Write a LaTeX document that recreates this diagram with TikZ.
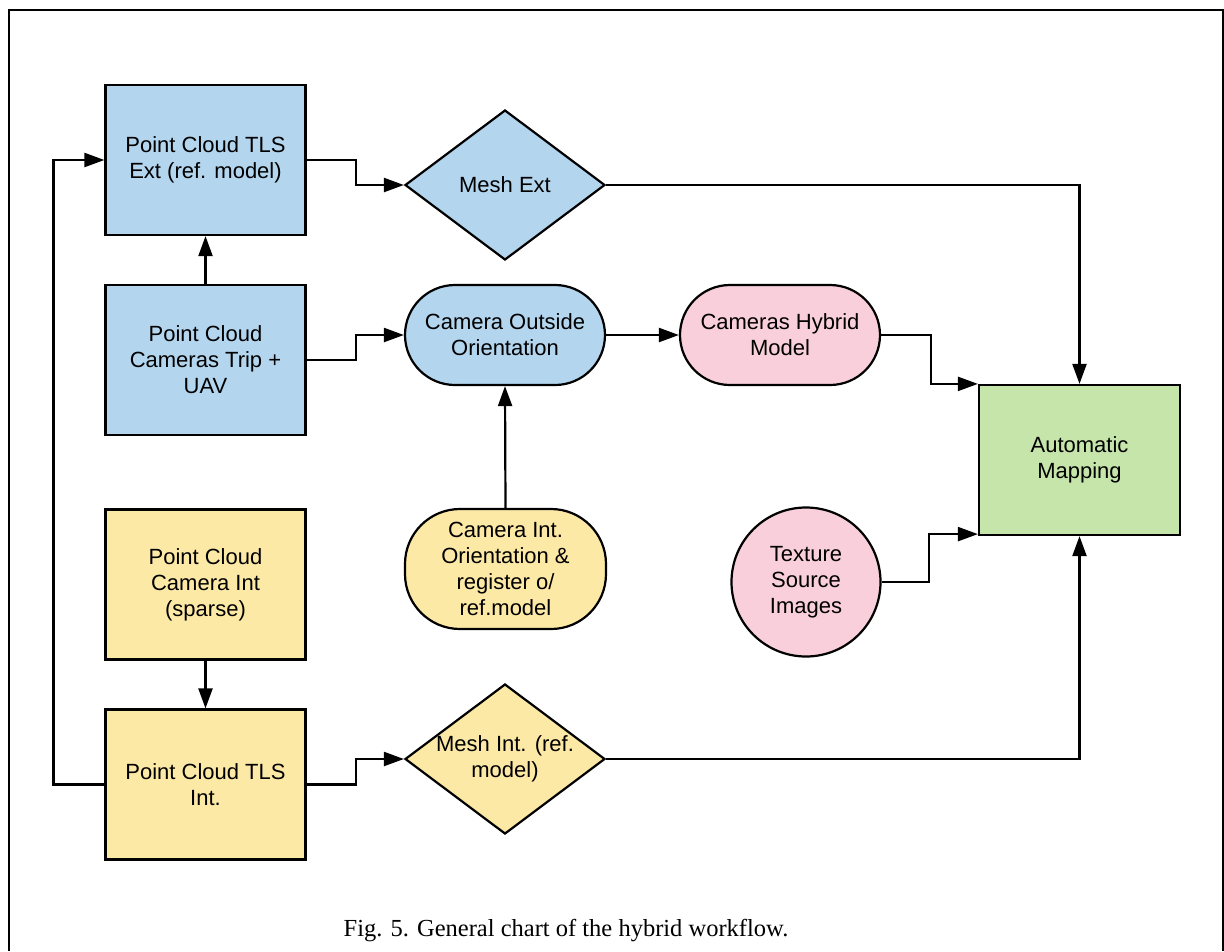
\documentclass[tikz,border=0pt]{standalone}
\usepackage{fontspec}
\setmainfont{Liberation Sans}
\newfontfamily\capfont{Liberation Serif}
\usetikzlibrary{arrows.meta,shapes.geometric}
\definecolor{cblue}{RGB}{179,213,238}
\definecolor{cyellow}{RGB}{253,233,166}
\definecolor{cpink}{RGB}{248,207,219}
\definecolor{cgreen}{RGB}{198,229,171}
\newcommand\labfont{\fontsize{22}{26}\selectfont}
\begin{document}
\begin{tikzpicture}[x=1pt,y=-1pt,
  shp/.style={draw, line width=2.2pt, inner sep=0pt, align=center, font=\labfont},
  boxnode/.style={shp, rectangle, minimum width=200pt, minimum height=150pt},
  stad/.style={shp, rectangle, rounded corners=50pt, minimum width=200pt, minimum height=100pt},
  dia/.style={shp, diamond, minimum width=200pt, minimum height=150pt},
  txt/.style={inner sep=0pt, align=center, font=\labfont},
  arr/.style={line width=2.2pt, -{Triangle[length=20pt,width=14pt]}},
  frame/.style={line width=2.5pt}
]
\useasboundingbox (0,0) rectangle (1224,951);
\draw[frame] (9,951) -- (9,10) -- (1223,10) -- (1223,951);

% left column
\node[boxnode, fill=cblue] (A) at (205.5,160) {Point Cloud TLS\\Ext (ref. model)};
\node[boxnode, fill=cblue] (B) at (205.5,360) {Point Cloud\\Cameras Trip +\\UAV};
\node[boxnode, fill=cyellow] (C) at (205.5,584.5) {Point Cloud\\Camera Int\\(sparse)};
\node[boxnode, fill=cyellow] (D) at (205.5,784.5) {Point Cloud TLS\\Int.};

% middle column
\node[dia, fill=cblue] (ME) at (505,185) {};
\node[txt] (MEt) at (ME) {Mesh Ext};
\node[stad, fill=cblue] (CO) at (505,335) {Camera Outside\\Orientation};
\node[shp, rectangle, rounded corners=55pt, minimum width=201pt, minimum height=120pt, fill=cyellow] (CI) at (505.5,569) {Camera Int.\\Orientation \&\\register o/\\ref.model};
\node[dia, fill=cyellow] (MI) at (505,759) {};
\node[txt] (MIt) at (MI) {Mesh Int. (ref.\\model)};

% right part
\node[stad, fill=cpink] (CH) at (780,335) {Cameras Hybrid\\Model};
\node[shp, circle, minimum size=149pt, fill=cpink] (TX) at (806,582) {Texture\\Source\\Images};
\node[shp, rectangle, minimum width=201pt, minimum height=150pt, fill=cgreen] (AM) at (1079.5,460) {Automatic\\Mapping};

% connectors
\draw[arr] (A.east) -- ++(49,0) |- (ME.west);
\draw[arr] (B.east) -- ++(49,0) |- (CO.west);
\draw[arr] (B.north) -- (A.south);
\draw[arr] (C.south) -- (D.north);
\draw[arr] (D.west) -- ++(-51,0) |- (A.west);
\draw[arr] (D.east) -- ++(49,0) |- (MI.west);
\draw[arr] (CI.north) -- (CO.south);
\draw[arr] (CO.east) -- (CH.west);
\draw[arr] (CH.east) -- ++(50,0) |- (AM.north west);
\draw[arr] (TX.east) -- ++(47,0) |- ([yshift=2pt]AM.south west);
\draw[arr] (ME.east) -| (AM.north);
\draw[arr] (MI.east) -| (AM.south);

% caption
\node[anchor=base, inner sep=0pt, font=\capfont\fontsize{24.5}{29}\selectfont] (cap) at (566,936) {Fig. 5. General chart of the hybrid workflow.};
\end{tikzpicture}
\end{document}
